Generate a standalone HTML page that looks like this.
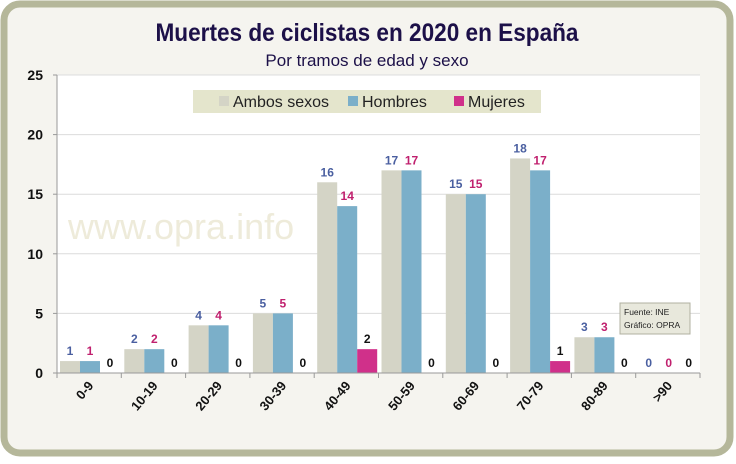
<!DOCTYPE html>
<html><head><meta charset="utf-8"><style>
html,body{margin:0;padding:0;background:#fff;}
body{width:736px;height:459px;overflow:hidden;font-family:"Liberation Sans",sans-serif;}
</style></head><body>
<svg width="736" height="459" viewBox="0 0 736 459" xmlns="http://www.w3.org/2000/svg">
<rect x="0" y="0" width="736" height="459" fill="#ffffff"/>
<rect x="4" y="4" width="726" height="449" rx="16" fill="#f5f4ef" stroke="#b5b79a" stroke-width="7"/>
<rect x="57" y="75" width="643" height="298" fill="#ffffff"/>
<text x="367" y="41" text-anchor="middle" font-size="25" font-weight="bold" fill="#1c1048" textLength="423" lengthAdjust="spacingAndGlyphs">Muertes de ciclistas en 2020 en España</text>
<text x="367" y="66" text-anchor="middle" font-size="17" fill="#1c1048">Por tramos de edad y sexo</text>
<g id="grid"></g>
<text x="68" y="239" font-size="36" fill="#eeebda">www.opra.info</text>
<g id="bars"></g>
<g id="labels"></g>
<g id="axes"></g>
<rect x="193" y="90" width="348" height="23" fill="#e4e5cc"/>
<rect x="219" y="96" width="10" height="10" fill="#d4d4c6"/>
<text x="233" y="107" font-size="16" fill="#222">Ambos sexos</text>
<rect x="348" y="96" width="10" height="10" fill="#7bafc9"/>
<text x="362" y="107" font-size="16" fill="#222">Hombres</text>
<rect x="454" y="96" width="10" height="10" fill="#d0308a"/>
<text x="468" y="107" font-size="16" fill="#222">Mujeres</text>
<rect x="620" y="303" width="70" height="31" fill="#e8e8dc" stroke="#b0b0a0" stroke-width="1"/>
<text x="624" y="315" font-size="8.5" fill="#222">Fuente: INE</text>
<text x="624" y="328" font-size="8.5" fill="#222">Gráfico:  OPRA</text>
</svg>
<script>
const categories=["0-9","10-19","20-29","30-39","40-49","50-59","60-69","70-79","80-89",">90"];
const ambos=[1,2,4,5,16,17,15,18,3,0];
const hombres=[1,2,4,5,14,17,15,17,3,0];
const mujeres=[0,0,0,0,2,0,0,1,0,0];
const yTicks=[0,5,10,15,20,25];
const NS="http://www.w3.org/2000/svg";
const x0=57,x1=700,y0=373,y1=75,ymax=25;
const cw=(x1-x0)/categories.length,bw=20;
function ys(v){return y0-(v/ymax)*(y0-y1);}
function xc(i){return x0+i*cw;}
function mk(tag,attrs,parent,txt){const e=document.createElementNS(NS,tag);for(const k in attrs)e.setAttribute(k,attrs[k]);if(txt!==undefined)e.textContent=txt;parent.appendChild(e);return e;}
const grid=document.getElementById('grid'),bars=document.getElementById('bars'),labels=document.getElementById('labels'),axes=document.getElementById('axes');
yTicks.forEach(t=>{
 if(t>0){const g=mk('line',{x1:x0,x2:x1,y1:ys(t),y2:ys(t),stroke:'#dcdcdc','stroke-width':1},grid);
 
 }
 const tk=mk('line',{x1:x0-4,x2:x0,y1:ys(t),y2:ys(t),stroke:'#999'},axes);
 
 
 const l=mk('text',{x:x0-14,y:ys(t)+5,'text-anchor':'end','font-size':14,'font-weight':'bold',fill:'#111'},axes,String(t));
 
 
});
const series=[[ambos,'#d4d4c6','#4a5fa0','ambos'],[hombres,'#7bafc9','#c0206e','hombres'],[mujeres,'#d0308a','#111','mujeres']];
categories.forEach((c,i)=>{
 series.forEach((s,j)=>{
  const v=s[0][i],bx=xc(i)+3+j*bw;
  if(v>0){const r=mk('rect',{x:bx,y:ys(v),width:bw,height:y0-ys(v),fill:s[1]},bars);
  
  }
  const t=mk('text',{x:bx+bw/2,y:ys(v)-6,'text-anchor':'middle','font-size':12,'font-weight':'bold',fill:s[2]},labels,String(v));
  
  
 });
 const tk=mk('line',{x1:xc(i),x2:xc(i),y1:y0,y2:y0+5,stroke:'#999'},axes);
 
 
 const cx=xc(i)+cw/2+5,cy=386;
 const l=mk('text',{x:cx,y:cy,'text-anchor':'end','font-size':13,'font-weight':'bold',fill:'#111',transform:`rotate(-50 ${cx} ${cy})`},axes,c);
 
 
});
const tkl=mk('line',{x1:x1,x2:x1,y1:y0,y2:y0+5,stroke:'#999'},axes);


const xa=mk('line',{x1:x0,x2:x1,y1:y0,y2:y0,stroke:'#999'},axes);


const ya=mk('line',{x1:x0,x2:x0,y1:y1,y2:y0,stroke:'#999'},axes);


</script>
</body></html>
